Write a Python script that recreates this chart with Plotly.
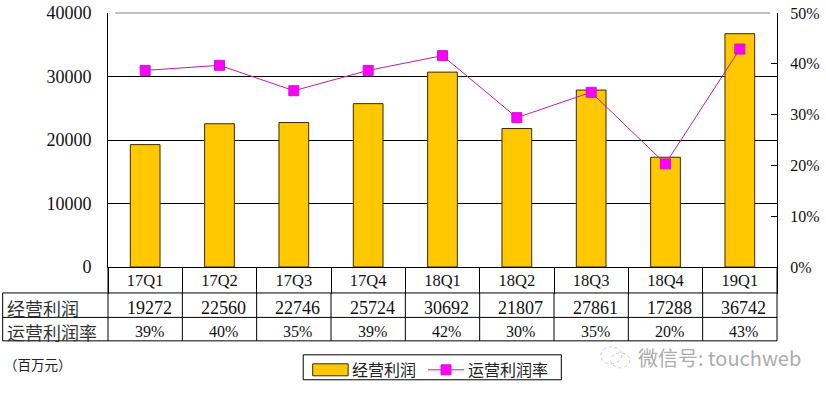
import plotly.graph_objects as go

quarters = ["17Q1","17Q2","17Q3","17Q4","18Q1","18Q2","18Q3","18Q4","19Q1"]
profit = [19272,22560,22746,25724,30692,21807,27861,17288,36742]
rate_plotted = [38.7,39.7,34.7,38.7,41.6,29.4,34.4,20.3,42.9]
rate_labels = ["39%","40%","35%","39%","42%","30%","35%","20%","43%"]
row_names = ["经营利润","运营利润率"]
left_ticks = [0,10000,20000,30000,40000]
right_ticks = [0,10,20,30,40,50]
right_labels = ["0%","10%","20%","30%","40%","50%"]

FONT = "Liberation Serif, Noto Sans CJK SC, serif"
CJK = "Noto Sans CJK SC, sans-serif"
W, H = 826, 393
L, R, T, B = 107.5, 777.5, 12.5, 267

def py(p):
    return (B - p) / (B - T)   # picture y to plot-area fraction
def px(p):
    return (p - L) / (R - L)

fig = go.Figure()
fig.add_bar(x=quarters, y=profit, name=row_names[0], width=0.4,
            marker=dict(color="#FFC800", line=dict(color="#3A2A00", width=1)))
fig.add_scatter(x=quarters, y=rate_plotted, name=row_names[1], yaxis="y2", mode="lines+markers",
                line=dict(color="#B51FB5", width=1),
                marker=dict(symbol="square", size=10, color="#FF00FF", line=dict(color="#C818C8", width=1)))

shapes = []
def seg(x0, y0, x1, y1, color="#000", width=1):
    shapes.append(dict(type="line", xref="paper", yref="paper", x0=px(x0), y0=py(y0), x1=px(x1), y1=py(y1),
                       line=dict(color=color, width=width), layer="above"))
def box(x0, y0, x1, y1, fill, line, width=1):
    shapes.append(dict(type="rect", xref="paper", yref="paper", x0=px(x0), y0=py(y0), x1=px(x1), y1=py(y1),
                       fillcolor=fill, line=dict(color=line, width=width), layer="above"))
def ring(x0, y0, x1, y1):
    shapes.append(dict(type="circle", xref="paper", yref="paper", x0=px(x0), y0=py(y0), x1=px(x1), y1=py(y1),
                       line=dict(color="#C4C4C4", width=1, dash="dot"), layer="above"))

for yp in (293, 317.5, 341):
    seg(2, yp, R, yp)
seg(2, 293, 2, 341)
seg(L, 267, L, 341)
seg(R, 267, R, 341)
seg(L + 7, T, R - 7, T, "#808080")
for i in range(1, len(quarters)):
    xp = L + (R - L) * i / len(quarters)
    seg(xp, 293, xp, 341)

# legend box
box(303, 355, 561.5, 380, "white", "#000")
box(312.5, 364, 348, 376, "#FFC800", "#3A2A00")
seg(428, 370, 464, 370, "#B51FB5")
box(441, 365, 451, 375, "#FF00FF", "#C818C8")

# watermark icon
ring(601, 347, 622, 364)
ring(611, 353, 630, 368)

ann = []
for q, v, r in zip(quarters, profit, rate_labels):
    ann.append(dict(x=q, xref="x", y=py(308), yref="paper", text=str(v), showarrow=False, xshift=4,
                    xanchor="center", yanchor="middle", font=dict(family=FONT, size=18, color="#111")))
    ann.append(dict(x=q, xref="x", y=py(331.5), yref="paper", text=r, showarrow=False, xshift=4,
                    xanchor="center", yanchor="middle", font=dict(family=FONT, size=16, color="#111")))
for name, yp in zip(row_names, (308, 332)):
    ann.append(dict(x=px(4), xref="paper", y=py(yp), yref="paper", text=name, showarrow=False,
                    xanchor="left", yanchor="middle", font=dict(family=CJK, size=18, color="#333")))
ann.append(dict(x=px(1), xref="paper", y=py(364), yref="paper", text="（百万元）", showarrow=False,
                xanchor="left", yanchor="middle", font=dict(family=CJK, size=13.5, color="#222")))
ann.append(dict(x=px(636), xref="paper", y=py(358), yref="paper", text="微信号: touchweb", showarrow=False,
                xanchor="left", yanchor="middle", font=dict(family=CJK, size=20, color="#ABABAB")))
for name, xp in zip(row_names, (350, 466)):
    ann.append(dict(x=px(xp), xref="paper", y=py(369), yref="paper", text=name, showarrow=False,
                    xanchor="left", yanchor="middle", font=dict(family=CJK, size=16, color="#222")))

fig.update_layout(
    width=W, height=H, autosize=False, showlegend=False,
    margin=dict(l=L, r=W-R, t=T, b=H-B, pad=0, autoexpand=False),
    paper_bgcolor="white", plot_bgcolor="white",
    font=dict(family=FONT, size=16, color="#111"),
    xaxis=dict(type="category", categoryorder="array", categoryarray=quarters, range=[-0.5, 8.5],
               showline=True, linecolor="#000", linewidth=1, showgrid=False,
               tickson="boundaries", ticks="outside", ticklen=26, tickcolor="#000", tickwidth=1,
               ticklabelstandoff=-2, tickfont=dict(size=16.5)),
    yaxis=dict(range=[0,40000], tickvals=left_ticks, ticktext=[str(v) for v in left_ticks],
               showgrid=True, gridcolor="#000", gridwidth=1,
               showline=True, linecolor="#000", linewidth=1, ticks="inside", ticklen=6, tickcolor="#000",
               ticklabelstandoff=12, tickfont=dict(size=18), zeroline=False),
    yaxis2=dict(range=[0,50], tickvals=right_ticks, ticktext=right_labels, overlaying="y", side="right",
                showgrid=False, showline=True, linecolor="#000", linewidth=1, ticks="inside", ticklen=6,
                ticklabelstandoff=9, tickcolor="#000", tickfont=dict(size=16), zeroline=False),
    shapes=shapes, annotations=ann,
)
fig.write_html("out.html", config=dict(displayModeBar=False), post_script="document.body.style.margin='0';")
